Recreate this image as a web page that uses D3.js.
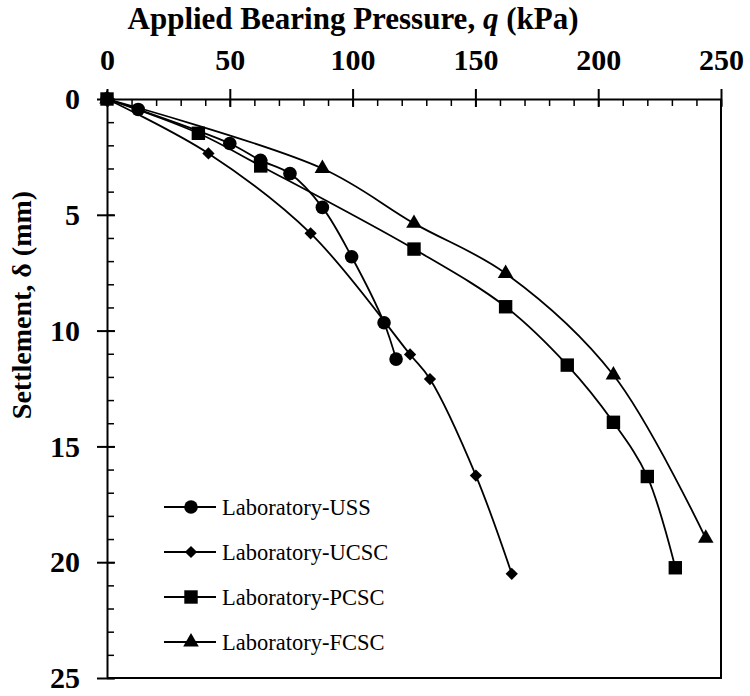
<!DOCTYPE html>
<html>
<head>
<meta charset="utf-8">
<script src="https://cdn.jsdelivr.net/npm/d3@7"></script>
<style>
  body { margin: 0; background: #fff; }
  svg text { font-family: "Liberation Serif", "Times New Roman", Times, serif; }
</style>
</head>
<body>
<div id="chart"></div>
<script>
// values
const ussQ = [0, 12.7, 50, 62.5, 74.5, 87.7, 99.6, 112.8, 117.7];
const ussD = [0, 0.45, 1.92, 2.65, 3.22, 4.68, 6.81, 9.66, 11.23];

const ucscQ = [0, 41.3, 82.9, 123.4, 131.5, 150.2, 164.8];
const ucscD = [0, 2.35, 5.8, 11.03, 12.09, 16.26, 20.5];

const pcscQ = [0, 37.2, 62.6, 125, 162.3, 187.4, 206.2, 220, 231.4];
const pcscD = [0, 1.48, 2.89, 6.48, 8.97, 11.49, 13.96, 16.3, 20.24];

const fcscQ = [0, 87.7, 125, 162.3, 206.2, 243.8];
const fcscD = [0, 3.0, 5.37, 7.53, 11.92, 18.97];

const seriesNames = ["Laboratory-USS", "Laboratory-UCSC", "Laboratory-PCSC", "Laboratory-FCSC"];
const seriesSymbols = ["circle", "diamond", "square", "triangle"];

const xTicks = [0, 50, 100, 150, 200, 250];
const yTicks = [0, 5, 10, 15, 20, 25];

const width = 750;
const height = 696;
const margin = { top: 99, right: 29, bottom: 18, left: 107 };

const series = [
  [ussQ, ussD], [ucscQ, ucscD], [pcscQ, pcscD], [fcscQ, fcscD]
].map(([q, d], i) => ({
  name: seriesNames[i],
  symbol: seriesSymbols[i],
  points: q.map((v, j) => ({ q: v, d: d[j] }))
}));

const svg = d3.select("#chart")
  .append("svg")
  .attr("width", width)
  .attr("height", height);

const x = d3.scaleLinear()
  .domain([0, 250])
  .range([margin.left, width - margin.right]);

const y = d3.scaleLinear()
  .domain([0, 25])
  .range([margin.top, height - margin.bottom]);

// frame on right and bottom
svg.append("path")
  .attr("d", `M${x(0)},${y(25)}H${x(250)}V${y(0)}`)
  .attr("fill", "none")
  .attr("stroke", "#000")
  .attr("stroke-width", 2);

// minor ticks (inside)
svg.append("g")
  .attr("transform", `translate(0,${y(0)})`)
  .call(d3.axisTop(x).tickValues(d3.range(0, 251, 10)).tickSize(-7).tickFormat(""))
  .call(g => g.select(".domain").remove())
  .selectAll("line").attr("stroke-width", 1.5);

svg.append("g")
  .attr("transform", `translate(${x(0)},0)`)
  .call(d3.axisLeft(y).tickValues(d3.range(0, 26, 1)).tickSize(-7).tickFormat(""))
  .call(g => g.select(".domain").remove())
  .selectAll("line").attr("stroke-width", 1.5);

// major axes, ticks crossing the line
const xAxis = svg.append("g")
  .attr("transform", `translate(0,${y(0)})`)
  .call(d3.axisTop(x).tickValues(xTicks).tickSize(0).tickPadding(29));
xAxis.attr("font-family", null).attr("font-size", null);
xAxis.selectAll(".tick line").attr("y1", -10).attr("y2", 8).attr("stroke-width", 2);
xAxis.select(".domain").attr("stroke-width", 2);
xAxis.selectAll("text")
  .attr("font-size", 30)
  .attr("font-weight", "bold")
  .attr("fill", "#000");

const yAxis = svg.append("g")
  .attr("transform", `translate(${x(0)},0)`)
  .call(d3.axisLeft(y).tickValues(yTicks).tickSize(0).tickPadding(27));
yAxis.attr("font-family", null).attr("font-size", null);
yAxis.selectAll(".tick line").attr("x1", -10).attr("x2", 8).attr("stroke-width", 2);
yAxis.select(".domain").attr("stroke-width", 2);
yAxis.selectAll("text")
  .attr("font-size", 30)
  .attr("font-weight", "bold")
  .attr("fill", "#000");

// axis titles
const xTitle = svg.append("text")
  .attr("x", 353)
  .attr("y", 29)
  .attr("text-anchor", "middle")
  .attr("font-size", 31)
  .attr("font-weight", "bold");
xTitle.append("tspan").text("Applied Bearing Pressure, ");
xTitle.append("tspan").attr("font-style", "italic").text("q");
xTitle.append("tspan").text(" (kPa)");

svg.append("text")
  .attr("transform", `translate(31,305) rotate(-90)`)
  .attr("text-anchor", "middle")
  .attr("font-size", 28)
  .attr("font-weight", "bold")
  .text("Settlement, δ (mm)");

const symbolType = {
  circle: d3.symbolCircle,
  diamond: d3.symbolSquare, // square turned 45 degrees
  square: d3.symbolSquare,
  triangle: d3.symbolTriangle
};
const symbolSize = { circle: 145, diamond: 75, square: 180, triangle: 105 };
const symbolTurn = { circle: 0, diamond: 45, square: 0, triangle: 0 };

const line = d3.line()
  .x(d => x(d.q))
  .y(d => y(d.d))
  .curve(d3.curveCatmullRom.alpha(0.5));

const groups = svg.append("g")
  .selectAll("g")
  .data(series)
  .join("g");

groups.append("path")
  .attr("d", s => line(s.points))
  .attr("fill", "none")
  .attr("stroke", "#000")
  .attr("stroke-width", 1.8);

groups.each(function (s) {
  d3.select(this).selectAll(".pt")
    .data(s.points)
    .join("path")
    .attr("class", "pt")
    .attr("transform", d => `translate(${x(d.q)},${y(d.d)}) rotate(${symbolTurn[s.symbol]})`)
    .attr("d", d3.symbol(symbolType[s.symbol], symbolSize[s.symbol]));
});

// legend
const legend = svg.append("g")
  .selectAll("g")
  .data(series)
  .join("g")
  .attr("transform", (d, i) => `translate(164,${507 + i * 45})`);

legend.append("line")
  .attr("x1", 0).attr("x2", 52)
  .attr("stroke", "#000")
  .attr("stroke-width", 1.8);

legend.append("path")
  .attr("transform", s => `translate(27,0) rotate(${symbolTurn[s.symbol]})`)
  .attr("d", s => d3.symbol(symbolType[s.symbol], symbolSize[s.symbol])());

legend.append("text")
  .attr("x", 58)
  .attr("y", 0)
  .attr("dy", "0.35em")
  .attr("font-size", 22.5)
  .text(s => s.name);
</script>
</body>
</html>
